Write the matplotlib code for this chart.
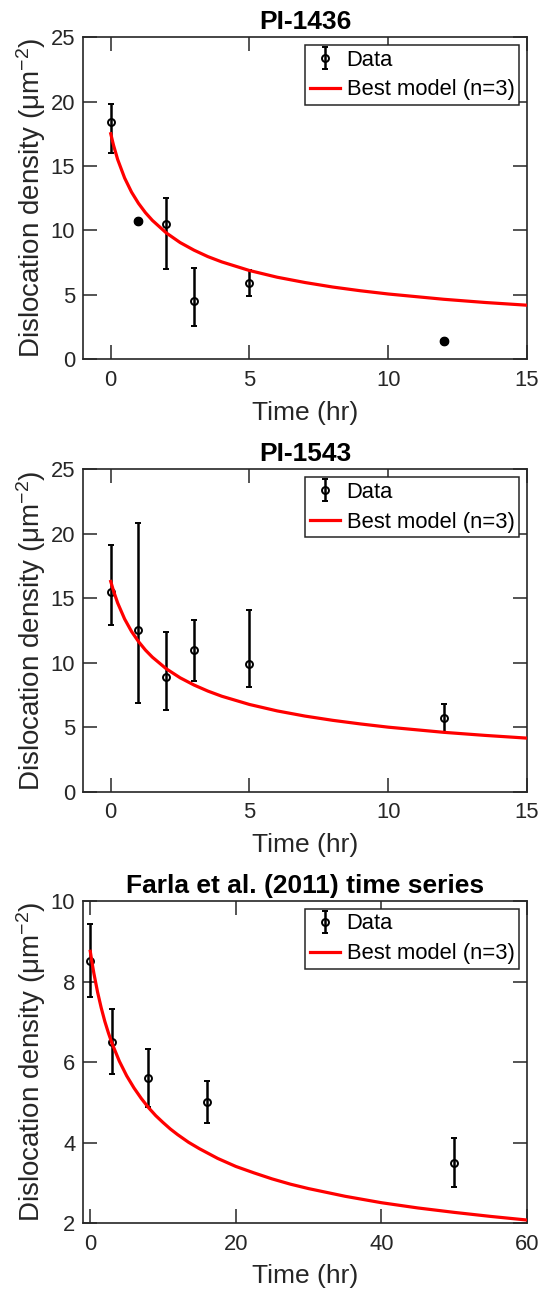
"""
Dislocation density vs time: data with error bars and best model (n=3)
for PI-1436, PI-1543 and the Farla et al. (2011) time series.
"""
import numpy as np
import matplotlib
matplotlib.use('Agg')
import matplotlib.pyplot as plt

# ===================== DATA =====================
# PI-1436 (points at t=1 and t=12 have no error bar)
T_1436 = [0, 1, 2, 3, 5, 12]
RHO_1436 = [18.4, 10.7, 10.5, 4.5, 5.9, 1.4]
HI_1436 = [19.8, 10.7, 12.5, 7.1, 6.9, 1.4]
LO_1436 = [16.0, 10.7, 7.0, 2.6, 4.9, 1.4]
TM_1436 = [0, 0.1, 0.25, 0.5, 0.75, 1, 1.25, 1.5, 2, 2.5, 3, 3.5, 4, 5, 6, 7,
           8, 9, 10, 12, 13.5, 15]
RM_1436 = [17.5, 16.61, 15.5, 14.07, 12.97, 12.10, 11.38, 10.78, 9.81, 9.06,
           8.47, 7.97, 7.56, 6.89, 6.37, 5.96, 5.61, 5.32, 5.07, 4.66, 4.41,
           4.20]

# PI-1543
T_1543 = [0, 1, 2, 3, 5, 12]
RHO_1543 = [15.5, 12.5, 8.9, 11.0, 9.9, 5.7]
HI_1543 = [19.1, 20.8, 12.4, 13.3, 14.1, 6.8]
LO_1543 = [12.9, 6.9, 6.3, 8.6, 8.1, 4.6]
TM_1543 = [0, 0.1, 0.25, 0.5, 0.75, 1, 1.25, 1.5, 2, 2.5, 3, 3.5, 4, 5, 6, 7,
           8, 9, 10, 12, 13.5, 15]
RM_1543 = [16.3, 15.57, 14.63, 13.39, 12.42, 11.64, 10.98, 10.43, 9.53, 8.83,
           8.27, 7.80, 7.40, 6.76, 6.26, 5.86, 5.53, 5.25, 5.00, 4.60, 4.36,
           4.15]

# Farla et al. (2011)
T_FARLA = [0, 3, 8, 16, 50]
RHO_FARLA = [8.52, 6.51, 5.61, 5.0, 3.5]
HI_FARLA = [9.42, 7.31, 6.32, 5.52, 4.11]
LO_FARLA = [7.61, 5.70, 4.89, 4.49, 2.90]
TM_FARLA = [0, 0.25, 0.5, 1, 1.5, 2, 2.5, 3, 4, 5, 6, 7, 8, 9, 10, 11, 12,
            13.5, 15, 17.5, 20, 22.5, 25, 27.5, 30, 35, 40, 45, 50, 55, 60]
RM_FARLA = [8.75, 8.46, 8.20, 7.74, 7.35, 7.01, 6.72, 6.46, 6.02, 5.66, 5.36,
            5.10, 4.87, 4.67, 4.50, 4.34, 4.20, 4.01, 3.85, 3.61, 3.41, 3.25,
            3.10, 2.97, 2.86, 2.67, 2.51, 2.38, 2.27, 2.17, 2.08]

TITLES = ['PI-1436', 'PI-1543', 'Farla et al. (2011) time series']
XLIMS = [(-1, 15), (-1, 15), (-1, 60)]
YLIMS = [(0, 25), (0, 25), (2, 10)]
XTICKS = [[0, 5, 10, 15], [0, 5, 10, 15], [0, 20, 40, 60]]
YTICKS = [[0, 5, 10, 15, 20, 25], [0, 5, 10, 15, 20, 25], [2, 4, 6, 8, 10]]
# ================================================

AX_COL = '#262626'
LEFT, WIDTH, HEIGHT = 0.1534, 0.8207, 0.2489
BOTTOMS = [0.7225, 0.3887, 0.0554]

plt.rcParams['font.family'] = ['Liberation Sans', 'DejaVu Sans']
plt.rcParams['mathtext.fontset'] = 'custom'
plt.rcParams['mathtext.rm'] = 'Liberation Sans'
plt.rcParams['mathtext.it'] = 'Liberation Sans:italic'


def panel(ax, t, rho, hi, lo, tm, rm, i):
    t = np.asarray(t, float)
    rho = np.asarray(rho, float)
    hi = np.asarray(hi, float)
    lo = np.asarray(lo, float)
    yerr = [rho - lo, hi - rho]
    eb = ax.errorbar(t, rho, yerr=yerr, fmt='o', color='k', mfc='none',
                     mec='k', ms=5, mew=1.4, ecolor='k', elinewidth=1.8,
                     capsize=2.2, capthick=1.8, label='Data', zorder=3)
    # points without spread show up as solid dots in the original
    flat = hi == lo
    if flat.any():
        ax.plot(t[flat], rho[flat], 'o', color='k', ms=6, zorder=3)
    ln, = ax.plot(tm, rm, color='red', lw=2.3, label='Best model (n=3)',
                  zorder=4)

    ax.set_xlim(*XLIMS[i])
    ax.set_ylim(*YLIMS[i])
    ax.set_xticks(XTICKS[i])
    ax.set_yticks(YTICKS[i])
    ax.tick_params(direction='in', length=9.8, width=1.1, top=True,
                   right=True, labelsize=15.8, color=AX_COL,
                   labelcolor=AX_COL)
    ax.tick_params(axis='x', pad=7.5)
    ax.tick_params(axis='y', pad=5.5)
    for s in ax.spines.values():
        s.set_linewidth(1.2)
        s.set_color(AX_COL)

    ax.set_title(TITLES[i], fontsize=19, fontweight='bold', pad=6)
    ax.set_xlabel('Time (hr)', fontsize=19, color=AX_COL, labelpad=7)
    ax.set_ylabel('Dislocation density (μm$^{-2}$)', fontsize=20,
                  color=AX_COL, labelpad=2)

    leg = ax.legend(handles=[eb, ln], loc='upper right', fontsize=15.8,
                    frameon=True, fancybox=False, framealpha=1,
                    edgecolor=AX_COL, borderaxespad=0.37, borderpad=0.2,
                    handlelength=1.4, handletextpad=0.28, labelspacing=0.4)
    leg.get_frame().set_linewidth(1.1)


def main():
    fig = plt.figure(figsize=(5.41, 12.95), dpi=100)
    sets = [
        (T_1436, RHO_1436, HI_1436, LO_1436, TM_1436, RM_1436),
        (T_1543, RHO_1543, HI_1543, LO_1543, TM_1543, RM_1543),
        (T_FARLA, RHO_FARLA, HI_FARLA, LO_FARLA, TM_FARLA, RM_FARLA),
    ]
    for i, d in enumerate(sets):
        ax = fig.add_axes([LEFT, BOTTOMS[i], WIDTH, HEIGHT])
        panel(ax, *d, i)

    fig.savefig('out.png', dpi=100)


if __name__ == '__main__':
    main()
